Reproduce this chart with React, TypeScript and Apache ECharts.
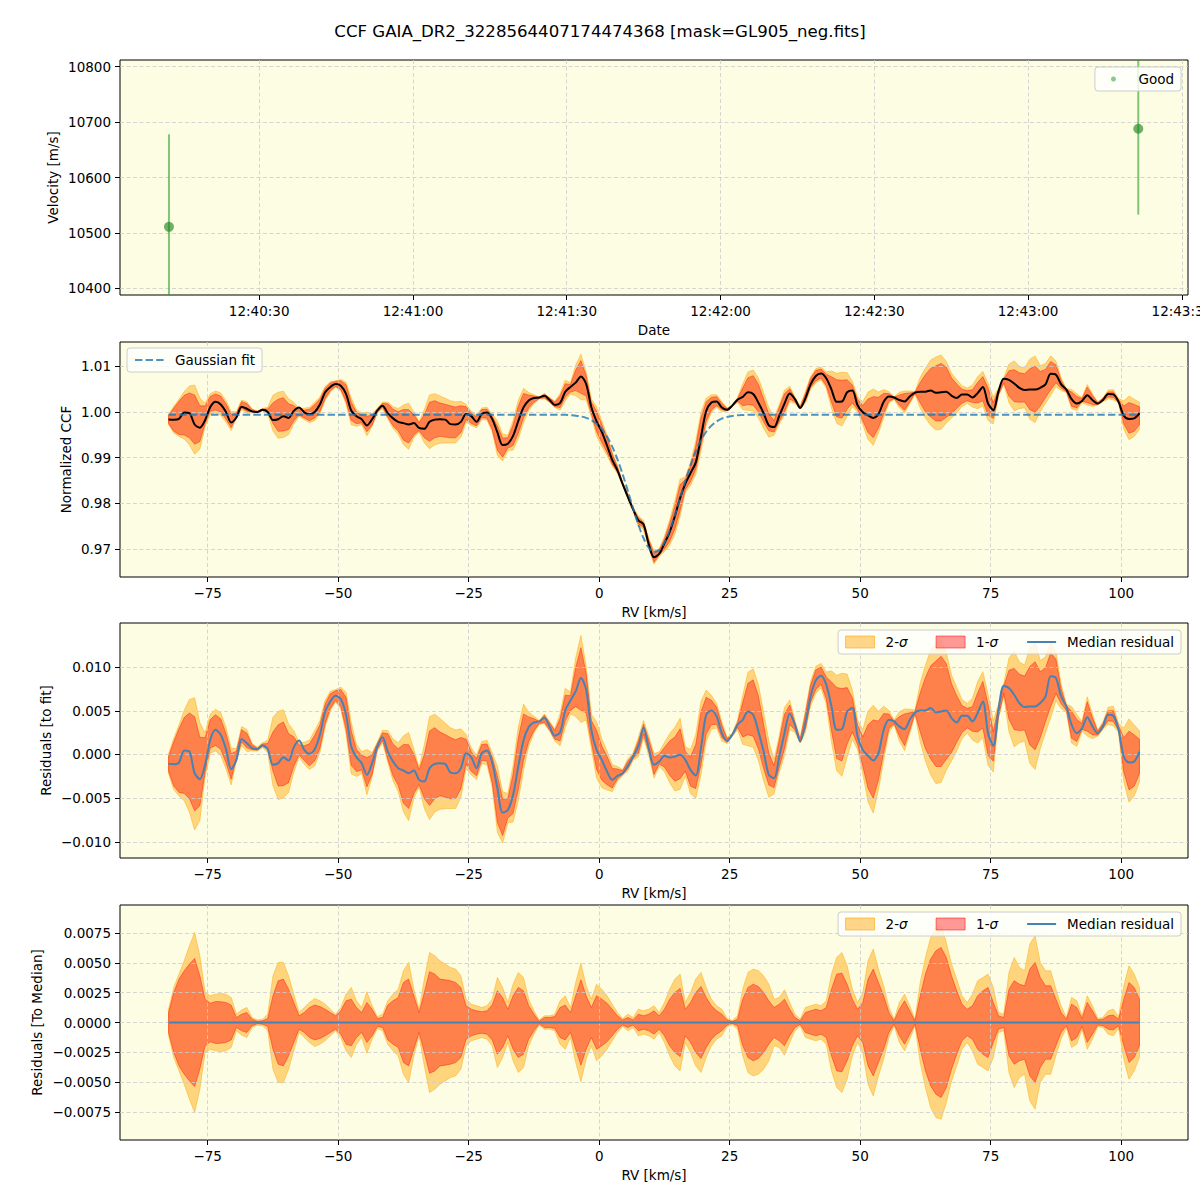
import React, { useEffect, useRef } from 'react';
import * as echarts from 'echarts';

const FONT = 'DejaVu Sans';
const TITLE = 'CCF GAIA_DR2_3228564407174474368 [mask=GL905_neg.fits]';

// ---------- Panel 1: velocity vs time ----------
const OBS_TIMES = ['12:40:12.4', '12:43:21.5'];
const OBS_VEL = [10511, 10688];
const OBS_ERR = [167, 155];
const TIME_TICKS = ['12:40:30', '12:41:00', '12:41:30', '12:42:00', '12:42:30', '12:43:00', '12:43:30'];
const TIME_RANGE = ['12:40:02.85', '12:43:31.2'];
const VEL_TICKS = [10400, 10500, 10600, 10700, 10800];
const VEL_RANGE = [10387.9, 10812.1];

// ---------- RV grid (km/s) ----------
const RV_FIRST = -82.5;
const RV_STEP = 1;
const RV_TICKS = [-75, -50, -25, 0, 25, 50, 75, 100];
const RV_RANGE = [-91.8, 112.8];

// Gaussian fit: continuum level and the core of the profile (from rv = -5.5, step 1)
const FIT_CONTINUUM = 0.99935;
const FIT_CORE_FIRST_RV = -5.5;
const FIT_CORE = [
  0.99925, 0.99915, 0.99897, 0.99867, 0.99816, 0.99738, 0.99621, 0.99457, 0.99238, 0.98961,
  0.98632, 0.98267, 0.97889, 0.97533, 0.97235, 0.97027, 0.96938, 0.96976, 0.97139, 0.97404,
  0.97742, 0.98115, 0.98489, 0.98835, 0.99134, 0.99376, 0.99562, 0.99696, 0.99789, 0.99849,
  0.99887, 0.99909, 0.99922, 0.99928, 0.99932,
];

// values in units of 1e-4
const E4 = 1e-4;
// median residual to fit
const RESID_MEDIAN_E4 = [
  -10.7, -11.1, -9.2, 4.6, 3.4, -21.4, -28.2, -11.8, 16.8, 28.2,
  22.5, 6.1, -16.8, -6.1, 17.6, 13.0, 7.3, 6.1, 10.7, 6.1,
  -11.8, -9.9, -3.1, -6.9, 8.4, 16.0, 5.3, 0.8, 6.1, 22.5,
  49.2, 60.7, 67.2, 63.4, 45.4, 9.2, -3.1, -9.9, -23.3, -9.9,
  9.2, 19.8, 3.4, -8.0, -15.6, -18.3, -21.4, -18.3, -29.0, -30.9,
  -15.6, -10.7, -9.9, -10.7, -20.6, -21.4, -15.6, 1.5, -3.1, -15.6,
  1.5, 4.6, -9.2, -38.5, -66.4, -63.4, -46.2, -13.7, 16.0, 31.3,
  36.6, 37.8, 41.6, 32.1, 21.4, 25.2, 50.4, 61.8, 72.1, 87.4,
  74.0, 28.2, 5.3, -6.1, -19.5, -29.0, -24.4, -21.4, -13.0, -2.3,
  9.2, 30.2, 7.3, -11.8, -8.0, -1.5, -3.4, -2.3, -0.4, -6.1,
  -17.6, -24.0, 7.3, 45.4, 50.4, 43.5, 24.4, 15.6, 22.5, 34.0,
  39.7, 49.2, 45.4, 26.3, 3.4, -23.3, -27.1, -2.3, 24.4, 46.6,
  34.0, 14.9, 35.9, 66.4, 84.7, 90.1, 79.8, 55.0, 28.2, 29.0,
  49.2, 53.1, 20.6, 5.3, -1.5, -6.9, 1.5, 28.2, 39.7, 37.8,
  32.1, 29.0, 39.7, 48.1, 50.4, 50.4, 53.1, 48.1, 49.2, 50.4,
  41.6, 36.6, 44.3, 44.3, 37.8, 47.3, 60.7, 24.4, 9.9, 51.1,
  78.6, 76.0, 68.3, 58.8, 54.2, 55.0, 55.0, 58.8, 66.4, 89.3,
  87.4, 66.4, 55.0, 34.0, 24.4, 30.2, 42.7, 32.1, 24.4, 32.1,
  45.4, 44.3, 28.2, -2.3, -9.2, -8.0, 3.4,
];
// centre of the percentile bands (residual to fit)
const BAND_CENTER_E4 = [
  -10.7, -10.7, -6.9, -1.1, -1.5, -10.7, -19.5, -0.4, 23.7, 27.9,
  23.3, 7.3, -13.7, -0.4, 21.4, 16.0, 8.4, 6.1, 10.7, 9.2,
  3.4, -1.1, 0.8, -4.2, 3.4, 5.3, 1.5, -0.4, 7.3, 20.6,
  46.6, 61.1, 67.2, 64.5, 47.3, 7.3, -6.9, -9.2, -20.2, -11.8,
  9.2, 20.6, 9.2, -6.1, -14.5, -22.1, -25.2, -22.1, -26.0, -25.2,
  -15.6, -9.9, -10.7, -13.0, -15.6, -16.8, -9.9, 3.4, -8.0, -14.5,
  2.3, 2.3, -17.6, -51.1, -71.8, -61.5, -45.0, -10.7, 19.8, 29.0,
  34.0, 36.6, 40.8, 32.1, 22.5, 28.2, 53.1, 58.8, 77.1, 86.3,
  70.2, 26.3, 5.3, -9.9, -18.3, -27.1, -22.1, -20.6, -11.8, -2.3,
  8.4, 29.0, 9.9, -13.0, -5.3, -3.1, -4.2, -5.3, 0.8, -8.0,
  -19.5, -13.7, 18.7, 44.3, 48.1, 44.3, 26.3, 16.0, 22.5, 33.6,
  39.7, 51.9, 53.1, 36.6, 9.2, -16.8, -25.2, 0.8, 26.3, 45.4,
  32.1, 16.0, 37.8, 69.5, 85.5, 90.1, 76.0, 55.0, 35.9, 34.0,
  44.3, 45.4, 22.5, 3.4, -2.3, -5.3, 4.6, 24.4, 37.8, 36.6,
  32.1, 28.2, 37.8, 48.1, 48.1, 47.3, 48.1, 46.6, 49.2, 49.2,
  41.6, 40.5, 40.5, 41.6, 40.5, 48.1, 56.9, 28.2, 9.2, 49.2,
  74.0, 68.3, 63.4, 59.5, 58.8, 55.7, 55.7, 56.9, 68.3, 85.5,
  89.3, 66.4, 53.1, 34.0, 27.5, 32.1, 43.5, 32.1, 24.4, 32.8,
  44.3, 43.9, 30.2, -0.4, -6.9, -6.9, -2.3,
];
// 1-sigma half width
const SIGMA1_E4 = [
  8.4, 25.2, 36.4, 43.4, 49.0, 53.8, 39.2, 19.6, 16.2, 17.6,
  17.4, 16.8, 14.6, 4.2, 7.0, 8.4, 2.8, 1.1, 1.4, 3.4,
  22.4, 35.0, 36.4, 28.0, 16.8, 5.6, 8.4, 12.6, 14.6, 13.4,
  11.2, 8.4, 5.6, 9.8, 18.2, 19.6, 12.6, 8.4, 16.8, 11.2,
  3.4, 4.2, 14.6, 18.2, 21.0, 33.6, 36.4, 22.4, 8.4, 25.2,
  42.6, 40.6, 36.4, 35.8, 35.0, 33.6, 29.4, 14.0, 11.2, 9.8,
  9.0, 9.8, 14.6, 26.6, 21.0, 11.2, 22.4, 29.4, 26.6, 14.0,
  7.0, 1.1, 4.2, 4.2, 5.0, 12.6, 14.6, 8.4, 22.4, 35.8,
  22.4, 12.6, 22.4, 19.6, 16.2, 11.2, 5.6, 2.2, 4.2, 2.2,
  7.0, 5.6, 7.0, 9.8, 5.6, 11.2, 19.6, 25.2, 28.6, 11.2,
  16.8, 25.2, 30.2, 21.0, 14.0, 9.8, 7.0, 2.2, 0.8, 2.8,
  19.6, 29.4, 32.2, 30.2, 25.2, 18.2, 12.6, 15.4, 19.6, 11.2,
  4.2, 1.4, 8.4, 9.8, 11.2, 9.8, 12.6, 28.0, 40.6, 41.4,
  32.2, 19.6, 11.2, 16.8, 36.4, 44.8, 33.6, 22.4, 8.4, 1.4,
  11.2, 18.2, 9.8, 1.4, 22.4, 40.6, 53.2, 60.2, 63.0, 54.6,
  39.2, 26.6, 15.4, 11.2, 14.0, 22.4, 26.6, 29.4, 16.8, 5.6,
  4.2, 28.0, 35.0, 32.2, 30.8, 44.8, 50.4, 37.8, 30.8, 30.8,
  19.6, 8.4, 2.8, 15.4, 12.6, 3.4, 16.8, 9.8, 2.2, 2.8,
  5.6, 6.2, 2.8, 19.6, 33.6, 29.4, 19.6,
];
// 2-sigma half width
const SIGMA2_E4 = [
  11.2, 29.4, 40.6, 51.8, 64.4, 75.6, 56.0, 25.2, 22.4, 23.8,
  24.4, 23.8, 21.0, 7.0, 10.6, 12.6, 4.2, 2.2, 2.8, 7.0,
  39.2, 50.4, 50.4, 39.2, 23.8, 8.4, 12.6, 16.8, 20.2, 18.2,
  15.4, 11.2, 7.0, 12.6, 23.8, 29.4, 18.2, 12.6, 25.8, 14.0,
  5.0, 7.0, 18.2, 23.8, 28.0, 43.4, 50.4, 28.0, 11.2, 36.4,
  58.8, 56.0, 51.8, 49.0, 46.2, 44.8, 39.2, 19.6, 15.4, 14.0,
  12.6, 14.0, 19.6, 37.8, 29.4, 16.8, 32.2, 42.0, 37.8, 19.6,
  9.8, 2.2, 5.6, 5.6, 7.0, 18.2, 22.4, 12.6, 33.6, 49.8,
  30.8, 19.6, 32.2, 28.0, 22.4, 15.4, 8.4, 3.4, 7.0, 4.2,
  11.2, 9.8, 11.2, 14.0, 8.4, 16.8, 28.0, 36.4, 40.6, 16.8,
  25.2, 36.4, 42.0, 29.4, 19.6, 14.0, 11.2, 3.4, 1.7, 5.6,
  28.0, 42.0, 44.8, 43.4, 39.2, 32.2, 19.6, 21.0, 27.4, 16.8,
  7.0, 2.8, 12.6, 14.0, 15.4, 14.0, 18.2, 40.6, 54.6, 58.8,
  47.6, 28.0, 16.8, 25.2, 51.8, 61.6, 44.8, 30.8, 12.6, 2.8,
  16.8, 23.8, 14.0, 2.8, 33.6, 54.6, 71.4, 79.8, 81.2, 67.2,
  49.0, 36.4, 22.4, 16.8, 23.8, 35.0, 37.8, 40.6, 29.4, 8.4,
  7.0, 42.0, 54.6, 46.2, 43.4, 65.8, 72.8, 50.4, 43.4, 43.4,
  28.0, 14.0, 4.2, 21.0, 18.2, 5.6, 22.4, 14.0, 3.4, 4.2,
  9.8, 11.2, 5.0, 30.8, 47.6, 40.6, 29.4,
];

const CCF_TICKS = [0.97, 0.98, 0.99, 1.0, 1.01];
const CCF_RANGE = [0.96388, 1.015246];
const RES_TICKS = [-0.01, -0.005, 0, 0.005, 0.01];
const RES_RANGE = [-0.011829, 0.015029];
const MED_TICKS = [-0.0075, -0.005, -0.0025, 0, 0.0025, 0.005, 0.0075];
const MED_RANGE = [-0.00986, 0.00986];

// ---------- derived series ----------
const RV = RESID_MEDIAN_E4.map((_, i) => RV_FIRST + i * RV_STEP);
const coreStart = Math.round((FIT_CORE_FIRST_RV - RV_FIRST) / RV_STEP);
const FIT = RV.map((_, i) => {
  const j = i - coreStart;
  return j >= 0 && j < FIT_CORE.length ? FIT_CORE[j] : FIT_CONTINUUM;
});
const RESID = RESID_MEDIAN_E4.map((v) => v * E4);
const CENTER = BAND_CENTER_E4.map((v) => v * E4);
const S1 = SIGMA1_E4.map((v) => v * E4);
const S2 = SIGMA2_E4.map((v) => v * E4);

const toSec = (s: string) => {
  const [h, m, sec] = s.split(':').map(Number);
  return h * 3600 + m * 60 + sec;
};
const pad2 = (n: number) => (n < 10 ? '0' + n : '' + n);
const fmtTime = (v: number) => {
  const t = Math.round(v);
  return `${Math.floor(t / 3600)}:${pad2(Math.floor((t % 3600) / 60))}:${pad2(t % 60)}`;
};
const fmtNum = (d: number) => (v: number) =>
  (v < -1e-12 ? '\u2212' : '') + Math.abs(v).toFixed(d);

// colours
const BG = '#fdfde3';
const ORANGE = 'rgba(255,165,0,0.45)';
const RED = 'rgba(255,0,0,0.4)';
const STEEL = '#4682b4';
const FITBLUE = 'rgba(31,119,180,0.8)';
const FS = 13.5;

const LEFT = 120;
const WIDTH = 1068;
const TOPS = [60, 342, 623, 905];
const H = 235;

function axisCommon(gi: number, range: number[], ticks: number[], fmt: (v: number) => string, name: string, gap: number) {
  return {
    type: 'value',
    gridIndex: gi,
    min: range[0],
    max: range[1],
    z: 3,
    axisLine: { show: false, onZero: false },
    axisTick: { show: true, inside: false, length: 5, lineStyle: { color: '#000', width: 1 }, customValues: ticks },
    axisLabel: { show: true, customValues: ticks, formatter: fmt, margin: 9, color: '#000', fontSize: FS, fontFamily: FONT, hideOverlap: false },
    splitLine: { show: true, lineStyle: { color: '#cccccc', width: 0.8, type: [4, 2.5] } },
    name,
    nameLocation: 'middle',
    nameGap: gap,
    nameMoveOverlap: false,
    nameTextStyle: { color: '#000', fontSize: FS, fontFamily: FONT },
  };
}

function bandSeries(name: string, gi: number, lo: number[], hi: number[], color: string) {
  return {
    type: 'custom',
    name,
    xAxisIndex: gi,
    yAxisIndex: gi,
    clip: true,
    z: 2,
    silent: true,
    itemStyle: { color },
    data: RV.map((x, k) => [x, lo[k], hi[k]]),
    encode: { x: 0, y: [1, 2] },
    renderItem: (params: any, api: any) => {
      if (params.dataIndex !== 0) return null;
      const up = RV.map((x, k) => api.coord([x, hi[k]]));
      const dn = RV.map((x, k) => api.coord([x, lo[k]])).reverse();
      return {
        type: 'polygon',
        shape: { points: up.concat(dn) },
        style: { fill: color, stroke: color, lineWidth: 1 },
      };
    },
  };
}

function lineSeries(name: string, gi: number, ys: number[], color: string, extra: any = {}) {
  return {
    type: 'line',
    name,
    xAxisIndex: gi,
    yAxisIndex: gi,
    data: RV.map((x, k) => [x, ys[k]]),
    symbol: 'none',
    showSymbol: false,
    smooth: 0.3,
    z: 5,
    silent: true,
    lineStyle: { color, width: 2, ...(extra.lineStyle || {}) },
    itemStyle: { color },
    ...(extra.rest || {}),
  };
}

const HIDDEN_SYMBOL = { color: 'rgba(0,0,0,0)', borderWidth: 0, opacity: 0 };

const legendBase = {
  orient: 'horizontal',
  backgroundColor: 'rgba(255,255,255,0.8)',
  borderColor: '#cccccc',
  borderWidth: 1,
  borderRadius: 3,
  padding: [5, 7],
  itemWidth: 29,
  itemHeight: 12,
  itemGap: 28,
  selectedMode: false,
  textStyle: {
    color: '#000',
    fontSize: FS,
    fontFamily: FONT,
    padding: [0, 0, 0, 6],
    rich: { i: { fontStyle: 'italic', fontSize: FS, fontFamily: FONT, color: '#000' } },
  },
  formatter: (n: string) => n.replace('σ', '{i|σ}'),
};

function sigmaLegend(top: number) {
  return {
    ...legendBase,
    right: 19,
    top,
    data: [
      { name: '2-σ', icon: 'rect', itemStyle: { color: ORANGE, borderColor: 'rgba(255,165,0,0.6)', borderWidth: 1 } },
      { name: '1-σ', icon: 'rect', itemStyle: { color: RED, borderColor: 'rgba(255,0,0,0.5)', borderWidth: 1 } },
      { name: 'Median residual', itemStyle: HIDDEN_SYMBOL, lineStyle: { color: STEEL, width: 2 } },
    ],
  };
}

function buildOption() {
  const ccfMedian = RV.map((_, k) => FIT[k] + RESID[k]);
  const ccf1lo = RV.map((_, k) => FIT[k] + CENTER[k] - S1[k]);
  const ccf1hi = RV.map((_, k) => FIT[k] + CENTER[k] + S1[k]);
  const ccf2lo = RV.map((_, k) => FIT[k] + CENTER[k] - S2[k]);
  const ccf2hi = RV.map((_, k) => FIT[k] + CENTER[k] + S2[k]);
  const r1lo = RV.map((_, k) => CENTER[k] - S1[k]);
  const r1hi = RV.map((_, k) => CENTER[k] + S1[k]);
  const r2lo = RV.map((_, k) => CENTER[k] - S2[k]);
  const r2hi = RV.map((_, k) => CENTER[k] + S2[k]);
  const m1lo = S1.map((v) => -v);
  const m2lo = S2.map((v) => -v);
  const zero = RESID.map((v) => v - v);

  const obs = OBS_TIMES.map((t, i) => [toSec(t), OBS_VEL[i], OBS_ERR[i]]);

  return {
    animation: false,
    backgroundColor: '#ffffff',
    textStyle: { fontFamily: FONT },
    title: {
      text: TITLE,
      left: 'center',
      top: 23,
      padding: 0,
      textStyle: { color: '#000', fontSize: 16.6, fontWeight: 'normal', fontFamily: FONT },
    },
    grid: TOPS.map((top) => ({
      left: LEFT,
      top,
      width: WIDTH,
      height: H,
      show: true,
      backgroundColor: BG,
      borderColor: '#000',
      borderWidth: 1,
      containLabel: false,
      outerBoundsMode: 'none',
    })),
    xAxis: [
      axisCommon(0, TIME_RANGE.map(toSec), TIME_TICKS.map(toSec), fmtTime, 'Date', 28),
      axisCommon(1, RV_RANGE, RV_TICKS, fmtNum(0), 'RV [km/s]', 28),
      axisCommon(2, RV_RANGE, RV_TICKS, fmtNum(0), 'RV [km/s]', 28),
      axisCommon(3, RV_RANGE, RV_TICKS, fmtNum(0), 'RV [km/s]', 28),
    ],
    yAxis: [
      axisCommon(0, VEL_RANGE, VEL_TICKS, (v: number) => String(Math.round(v)), 'Velocity [m/s]', 60),
      axisCommon(1, CCF_RANGE, CCF_TICKS, fmtNum(2), 'Normalized CCF', 47),
      axisCommon(2, RES_RANGE, RES_TICKS, fmtNum(3), 'Residuals [to fit]', 67),
      axisCommon(3, MED_RANGE, MED_TICKS, fmtNum(4), 'Residuals [To Median]', 76),
    ],
    legend: [
      {
        ...legendBase,
        right: 19,
        top: 67,
        padding: [5, 7, 5, 16],
        itemWidth: 28,
        itemHeight: 5,
        data: [{ name: 'Good', icon: 'circle', itemStyle: { color: 'rgba(44,160,44,0.7)' } }],
      },
      {
        ...legendBase,
        left: 127,
        top: 348,
        data: [{ name: 'Gaussian fit', itemStyle: HIDDEN_SYMBOL, lineStyle: { color: FITBLUE, width: 2, type: [7.4, 3.2] } }],
      },
      sigmaLegend(630),
      sigmaLegend(912),
    ],
    series: [
      // panel 1
      {
        type: 'custom',
        name: 'Good errors',
        xAxisIndex: 0,
        yAxisIndex: 0,
        clip: true,
        z: 3,
        silent: true,
        data: obs,
        encode: { x: 0, y: 1 },
        renderItem: (_p: any, api: any) => {
          const t = api.value(0);
          const v = api.value(1);
          const e = api.value(2);
          const a = api.coord([t, v - e]);
          const b = api.coord([t, v + e]);
          return {
            type: 'line',
            shape: { x1: a[0], y1: a[1], x2: b[0], y2: b[1] },
            style: { stroke: 'rgba(44,160,44,0.6)', lineWidth: 2 },
          };
        },
      },
      {
        type: 'scatter',
        name: 'Good',
        xAxisIndex: 0,
        yAxisIndex: 0,
        z: 4,
        silent: true,
        symbol: 'circle',
        symbolSize: 10,
        itemStyle: { color: 'rgba(24,130,24,0.78)' },
        data: obs.map((d) => [d[0], d[1]]),
      },
      // panel 2
      bandSeries('ccf 2-sigma', 1, ccf2lo, ccf2hi, ORANGE),
      bandSeries('ccf 1-sigma', 1, ccf1lo, ccf1hi, RED),
      lineSeries('CCF median', 1, ccfMedian, '#000000'),
      lineSeries('Gaussian fit', 1, FIT, FITBLUE, { lineStyle: { type: [7.4, 3.2] }, rest: { z: 6 } }),
      // panel 3
      bandSeries('2-σ', 2, r2lo, r2hi, ORANGE),
      bandSeries('1-σ', 2, r1lo, r1hi, RED),
      lineSeries('Median residual', 2, RESID, STEEL),
      // panel 4
      bandSeries('2-σ', 3, m2lo, S2, ORANGE),
      bandSeries('1-σ', 3, m1lo, S1, RED),
      lineSeries('Median residual', 3, zero, STEEL),
    ],
  };
}

export default function App() {
  const ref = useRef<HTMLDivElement>(null);
  useEffect(() => {
    if (!ref.current) return;
    const chart = echarts.init(ref.current, null, { renderer: 'svg' });
    chart.setOption(buildOption() as any);
    return () => chart.dispose();
  }, []);
  return (
    <div
      ref={ref}
      style={{ position: 'absolute', left: 0, top: 0, width: 1200, height: 1200, background: '#fff' }}
    />
  );
}
